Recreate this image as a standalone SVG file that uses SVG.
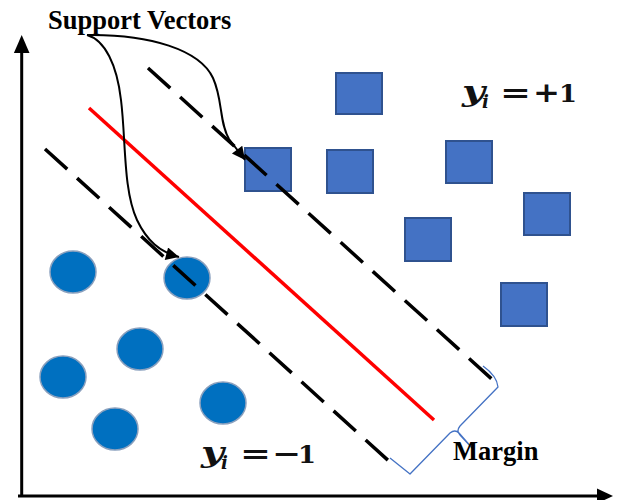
<svg xmlns="http://www.w3.org/2000/svg" width="617" height="500" viewBox="0 0 617 500">
<style>
.ax{stroke:#000;stroke-width:3;fill:none}
.hp{stroke:#FF0000;stroke-width:3.5;fill:none}
.mg{stroke:#000;stroke-width:3.5;stroke-dasharray:30 13.3;fill:none}
.sq{fill:#4472C4;stroke:#2F528F;stroke-width:2}
.ci{fill:#0070C0;stroke:#8AA0BE;stroke-width:1.5}
.cv{stroke:#000;stroke-width:2;fill:none}
.br{stroke:#4472C4;stroke-width:1.3;fill:none;stroke-linejoin:round}
.lbl{font-family:"Liberation Serif","Times New Roman",serif;font-weight:bold;font-size:26.5px;fill:#000}
.mi{font-family:"DejaVu Serif",serif;font-weight:bold;font-style:italic;fill:#111}
.mr{font-family:"DejaVu Serif",serif;font-weight:bold;fill:#111}
</style>
<defs>
<marker id="ah" viewBox="0 0 10 10" refX="10" refY="5" markerUnits="userSpaceOnUse" markerWidth="17" markerHeight="13" orient="auto">
<path d="M0,0 L10,5 L0,10 z" fill="#000"/>
</marker>
</defs>
<rect width="617" height="500" fill="#fff"/>
<g id="axes">
<line class="ax" x1="21.7" y1="497" x2="21.7" y2="50"/>
<path d="M21.7,35 L29.5,53 L13.9,53 z" fill="#000"/>
<line class="ax" x1="18" y1="496" x2="598" y2="496"/>
<path d="M613,496 L597,503.5 L597,488.5 z" fill="#000"/>
</g>
<g id="hyperplane">
<line class="hp" x1="89" y1="108" x2="434" y2="420"/>
</g>
<g id="positive-class">
<rect id="sq1" class="sq" x="245" y="148" width="46" height="43"/>
<rect id="sq2" class="sq" x="336" y="73" width="46" height="41"/>
<rect id="sq3" class="sq" x="327" y="150" width="46" height="43"/>
<rect id="sq4" class="sq" x="446" y="141" width="46" height="42"/>
<rect id="sq5" class="sq" x="524" y="193" width="46" height="42"/>
<rect id="sq6" class="sq" x="405" y="218" width="46" height="43"/>
<rect id="sq7" class="sq" x="501" y="283" width="46" height="43"/>
</g>
<g id="negative-class">
<ellipse id="c1" class="ci" cx="73" cy="272" rx="23" ry="21"/>
<ellipse id="c2" class="ci" cx="187" cy="278" rx="23" ry="21"/>
<ellipse id="c3" class="ci" cx="140" cy="349" rx="23" ry="21"/>
<ellipse id="c4" class="ci" cx="63" cy="377" rx="23" ry="21"/>
<ellipse id="c5" class="ci" cx="115" cy="429" rx="23" ry="21"/>
<ellipse id="c6" class="ci" cx="223" cy="403" rx="23" ry="21"/>
</g>
<g id="margin-lines">
<line class="mg" x1="148" y1="68" x2="495" y2="382"/>
<line class="mg" x1="45" y1="149" x2="391" y2="463"/>
</g>
<g id="connectors">
<path class="cv" d="M87,35 C150,34 200,50 213,78 C223,100 219,122 229,139 L245,160" marker-end="url(#ah)"/>
<path class="cv" d="M87,35 C105,40 117,65 121,100 C126,140 123,190 137,220 C147,241 160,252 179,257" marker-end="url(#ah)"/>
<path class="br" d="M483,366 Q497,376 498,387 L460,426 Q456,431 460,435 L473,449 M473,449 L459,433 Q455,429 450,433 L410,474 L390,458"/>
</g>
<g id="labels">
<text id="sv" class="lbl" x="48" y="29">Support Vectors</text>
<text id="margin" class="lbl" x="453" y="460">Margin</text>
<g id="label-pos">
<text class="mi" x="462" y="101" font-size="27" textLength="23" lengthAdjust="spacingAndGlyphs">y</text>
<text class="mi" x="482" y="108" font-size="18">i</text>
<text class="mr" x="500" y="102" font-size="27" textLength="31" lengthAdjust="spacingAndGlyphs">=</text>
<text class="mr" x="533" y="102" font-size="27" textLength="27" lengthAdjust="spacingAndGlyphs">+</text>
<text class="mr" x="559" y="102" font-size="25" textLength="18" lengthAdjust="spacingAndGlyphs">1</text>
</g>
<g id="label-neg">
<text class="mi" x="201" y="462" font-size="27" textLength="23" lengthAdjust="spacingAndGlyphs">y</text>
<text class="mi" x="221" y="469" font-size="18">i</text>
<text class="mr" x="240" y="463" font-size="27" textLength="31" lengthAdjust="spacingAndGlyphs">=</text>
<text class="mr" x="272" y="463" font-size="27" textLength="29" lengthAdjust="spacingAndGlyphs">−</text>
<text class="mr" x="298" y="463" font-size="25" textLength="18" lengthAdjust="spacingAndGlyphs">1</text>
</g>
</g>
</svg>
